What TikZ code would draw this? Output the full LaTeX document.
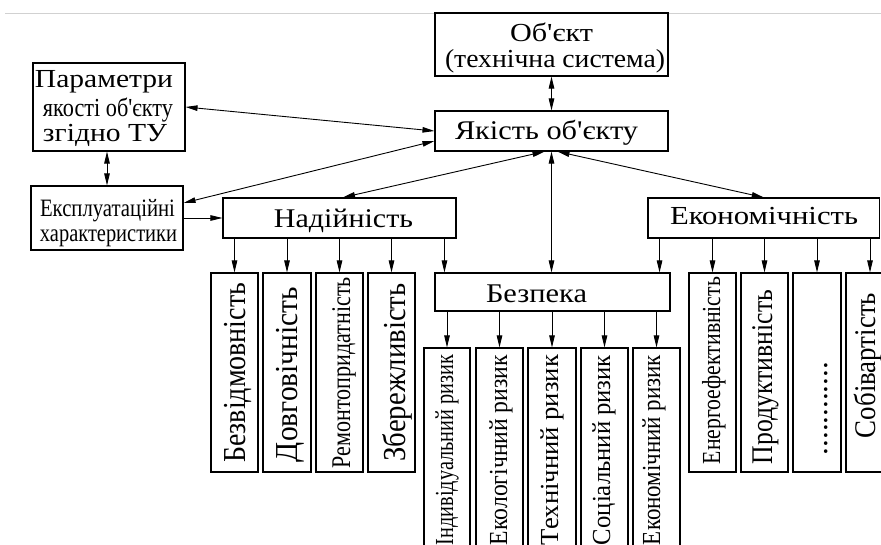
\documentclass[tikz,border=0pt]{standalone}
\usepackage{fontspec}
\newfontfamily\serifrm{Liberation Serif}
\usetikzlibrary{arrows.meta,calc}
% stretch or squeeze a text horizontally to a given width, keeping its height
\newcommand{\fitx}[2]{\resizebox{#1}{\height}{#2}}
\newcommand{\fsz}[1]{\fontsize{#1pt}{#1pt}\selectfont}

\begin{document}
\begin{tikzpicture}[x=1pt,y=-1pt,
  >={Triangle[length=12pt,width=5.5pt]},
  box/.style={draw, line width=1.1pt, inner sep=0pt, fill=white},
  vbox/.style={box, rotate=90},
  lbl/.style={inner sep=0pt, anchor=base},
  vlbl/.style={inner sep=0pt, anchor=base, rotate=90},
  arr/.style={line width=0.9pt, ->},
  darr/.style={line width=0.9pt, <->}]
\serifrm
\clip (0,0) rectangle (881,545);
\fill[white] (0,0) rectangle (881,545);
\draw[line width=0.8pt, black!18] (5,13) -- (881,13);

% upper level
\node[box, minimum width=233pt, minimum height=63pt] (obj) at (551.5,44.5) {};
\node[box, minimum width=233pt, minimum height=40pt] (yak) at (551.5,131) {};
\node[box, minimum width=152pt, minimum height=88pt] (par) at (109,107) {};
\node[box, minimum width=152pt, minimum height=64pt] (exp) at (107,218) {};
\node[box, minimum width=233pt, minimum height=40pt] (nad) at (339.5,218) {};
\node[box, minimum width=231.5pt, minimum height=40pt] (eko) at (763.75,218) {};
\node[box, minimum width=235pt, minimum height=38pt] (bez) at (552.5,292) {};

\node[lbl, font=\fsz{26}] (objt1) at (551.5,42) {\fitx{83pt}{Об'єкт}};
\node[lbl, font=\fsz{26}] (objt2) at (555,68) {\fitx{220pt}{(технічна система)}};
\node[lbl, font=\fsz{27}] (yakt) at (546.5,140) {\fitx{183pt}{Якість об'єкту}};
\node[lbl, font=\fsz{26}] (part1) at (104,88) {\fitx{138pt}{Параметри}};
\node[lbl, font=\fsz{26}] (part2) at (108,117) {\fitx{130pt}{якості об'єкту}};
\node[lbl, font=\fsz{26}] (part3) at (105,142) {\fitx{124pt}{згідно ТУ}};
\node[lbl, font=\fsz{25}] (expt1) at (107.5,217) {\fitx{135pt}{Експлуатаційні}};
\node[lbl, font=\fsz{25}] (expt2) at (108.5,242) {\fitx{137pt}{характеристики}};
\node[lbl, font=\fsz{27}] (nadt) at (343.5,228) {\fitx{139pt}{Надійність}};
\node[lbl, font=\fsz{26}] (ekot) at (764,225) {\fitx{188pt}{Економічність}};
\node[lbl, font=\fsz{27}] (bezt) at (536.5,302) {\fitx{101pt}{Безпека}};

% reliability group
\node[vbox, minimum width=199pt, minimum height=47pt] (n1) at (234.5,372.5) {};
\node[vbox, minimum width=199pt, minimum height=48pt] (n2) at (287,372.5) {};
\node[vbox, minimum width=199pt, minimum height=47pt] (n3) at (339.5,372.5) {};
\node[vbox, minimum width=199pt, minimum height=47pt] (n4) at (391.5,372.5) {};
\node[vlbl, font=\fsz{32}] (n1t) at (245,373) {\fitx{180pt}{Безвідмовність}};
\node[vlbl, font=\fsz{32}] (n2t) at (297,374.5) {\fitx{175pt}{Довговічність}};
\node[vlbl, font=\fsz{27}] (n3t) at (350,372.5) {\fitx{191pt}{Ремонтопридатність}};
\node[vlbl, font=\fsz{32}] (n4t) at (405,372.5) {\fitx{178pt}{Збережливість}};

% economy group
\node[vbox, minimum width=199pt, minimum height=47pt] (e1) at (712.5,372.5) {};
\node[vbox, minimum width=199pt, minimum height=47pt] (e2) at (764.5,372.5) {};
\node[vbox, minimum width=199pt, minimum height=48pt] (e3) at (817,372.5) {};
\node[vbox, minimum width=199pt, minimum height=48pt] (e4) at (870,372.5) {};
\node[vlbl, font=\fsz{26}] (e1t) at (720,370.5) {\fitx{187pt}{Енергоефективність}};
\node[vlbl, font=\fsz{30}] (e2t) at (772,377) {\fitx{174pt}{Продуктивність}};
\node[vlbl, font=\fsz{30}] (e3t) at (827,408.5) {\fitx{93pt}{............}};
\node[vlbl, font=\fsz{30}] (e4t) at (875,365.5) {\fitx{145pt}{Собівартість}};

% safety group
\node[vbox, minimum width=252pt, minimum height=46pt] (b1) at (447,474) {};
\node[vbox, minimum width=252pt, minimum height=47pt] (b2) at (499.5,474) {};
\node[vbox, minimum width=252pt, minimum height=48pt] (b3) at (552,474) {};
\node[vbox, minimum width=252pt, minimum height=47pt] (b4) at (604.5,474) {};
\node[vbox, minimum width=252pt, minimum height=47pt] (b5) at (656.5,474) {};
\node[vlbl, font=\fsz{26}] (b1t) at (453,450) {\fitx{190pt}{Індивідуальний ризик}};
\node[vlbl, font=\fsz{26}] (b2t) at (507,450) {\fitx{190pt}{Екологічний ризик}};
\node[vlbl, font=\fsz{26}] (b3t) at (558,450) {\fitx{190pt}{Технічний ризик}};
\node[vlbl, font=\fsz{26}] (b4t) at (610,450) {\fitx{190pt}{Соціальний ризик}};
\node[vlbl, font=\fsz{26}] (b5t) at (660,450) {\fitx{190pt}{Економічний ризик}};

% connectors
\coordinate (nb) at ($(bez.north west)+(10,0)$);
\coordinate (eb) at ($(bez.north east)+(-11,0)$);
\draw[darr] (par.east) -- (yak.west);
\draw[darr] ($(exp.east)+(0,-15)$) -- ($(yak.west)+(0,10)$);
\draw[arr] (exp.east) -- (nad.west);
\draw[darr] (par.south -| exp.north) -- (exp.north);
\draw[darr] (obj.south) -- (yak.north);
\draw[darr] ($(yak.south)+(-7,0)$) -- ($(nad.north)+(3.5,0)$);
\draw[darr] ($(yak.south)+(6,0)$) -- (eko.north);
\draw[darr] (yak.south) -- (yak.south |- bez.north);
\foreach \k in {n1,n2,n3,n4} \draw[arr] (nad.south -| \k.east) -- (\k.east);
\draw[arr] (nad.south -| nb) -- (nb);
\draw[arr] (eko.south -| eb) -- (eb);
\foreach \k in {e1,e2,e3,e4} \draw[arr] (eko.south -| \k.east) -- (\k.east);
\foreach \k in {b1,b2,b3,b4,b5} \draw[arr] (bez.south -| \k.east) -- (\k.east);
\end{tikzpicture}
\end{document}
